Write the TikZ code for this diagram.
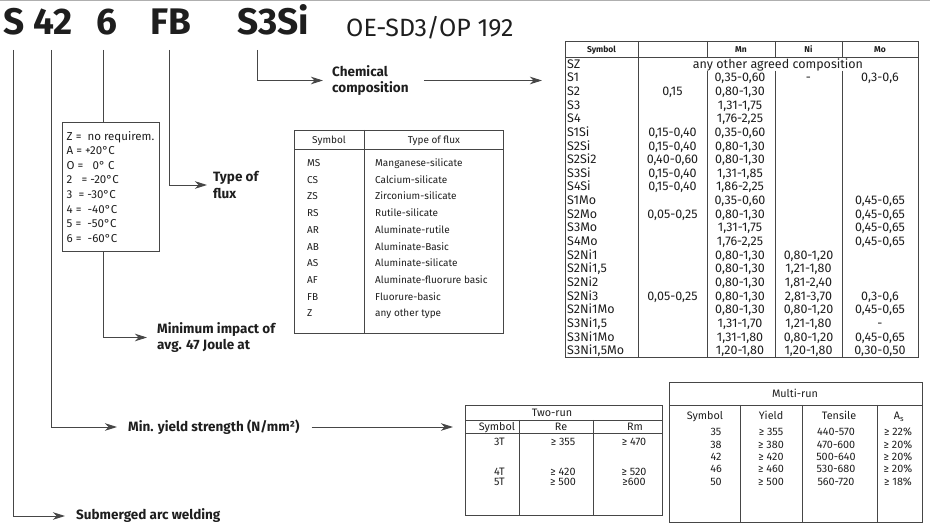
\documentclass[tikz,border=0pt]{standalone}
\usepackage{fontspec}
\setmainfont{Fira Sans}
\usetikzlibrary{arrows.meta, calc, positioning}

\definecolor{ink}{RGB}{30,30,30}
\definecolor{rulecol}{RGB}{70,70,70}
\definecolor{topline}{RGB}{175,175,175}

\newcommand\bigfnt{\fontsize{37}{40}\selectfont}
\newcommand\reffnt{\fontsize{25}{28}\selectfont}
\newcommand\lblfnt{\fontsize{13.5}{16.5}\selectfont\bfseries}
\newcommand\cellfnt{\fontsize{10}{12}\selectfont}
\newcommand\chemfnt{\fontsize{12.5}{13}\selectfont}
\newcommand\runfnt{\fontsize{10.8}{13}\selectfont}
\newcommand\headfnt{\fontsize{8.5}{10}\selectfont\bfseries}

\begin{document}
\begin{tikzpicture}[x=1pt, y=-1pt,
    conn/.style={draw=rulecol, line width=0.9pt, -{Stealth[length=12pt, width=7.5pt, inset=3.5pt]}},
    lead/.style={draw=rulecol, line width=0.9pt},
    grid/.style={draw=rulecol, line width=0.8pt},
    lbl/.style={font=\lblfnt, text=ink, anchor=west, align=left, inner sep=0pt},
    code/.style={font=\bigfnt\bfseries, text=ink, anchor=base west, inner sep=0pt},
    cell/.style={font=\cellfnt, text=ink, inner sep=0pt, text height=7.1pt, text depth=0pt},
    chem/.style={cell, font=\chemfnt, text height=8.8pt},
    run/.style={cell, font=\runfnt, text height=7.7pt},
    hcell/.style={font=\headfnt, text=ink, inner sep=0pt, text height=6.1pt, text depth=0pt}]
\useasboundingbox (0,0) rectangle (930,526);
\draw[topline, line width=1.5pt] (0,0.75) -- (930,0.75);

% designation
\node[code] (hS)   at (3,35)   {S};
\node[code] (h42)  at (33,35)  {42};
\node[code] (h6)   at (96,35)  {6};
\node[code] (hFB)  at (150,35) {FB};
\node[code] (hSi)  at (237,35) {S3Si};
\node[font=\reffnt, text=ink, anchor=base west, inner sep=0pt] (hRef) at (346,37) {OE-SD3/OP 192};

\coordinate (tS)  at (13,50);
\coordinate (t42) at (51,50);
\coordinate (t6)  at (103.5,50);
\coordinate (tFB) at (169,50);
\coordinate (tSi) at (257.5,50);

% labels
\node[lbl] (lChem)  at (332,80.5)  {Chemical\\composition};
\node[lbl] (lFlux)  at (213,185)   {Type of\\flux};
\node[lbl] (lImp)   at (157,337.5) {Minimum impact of\\avg. 47 Joule at};
\node[lbl] (lYield) at (128,427)   {Min. yield strength (N/mm²)};
\node[lbl] (lSub)   at (76,516)    {Submerged arc welding};

% impact box
\node[draw=rulecol, line width=0.8pt, minimum width=97.5pt, minimum height=129.5pt,
      inner sep=0pt, anchor=north west] (impbox) at (61.7,121.7) {};
\node[font=\fontsize{11.5}{14.6}\selectfont, text=ink, anchor=north west, align=left,
      inner sep=0pt] (imptxt) at (66.5,131)
  {Z =\ \ no requirem.\\A = +20°C\\O =\ \ \ 0° C\\2\ \ \ = -20°C\\3\ \ = -30°C\\4 =\ \ -40°C\\5 =\ \ -50°C\\6 =\ \ -60°C};

% connectors
\draw[conn] (tS) |- ([xshift=-11pt]lSub.west);
\draw[conn] (t42) |- ([xshift=-11pt]lYield.west);
\draw[lead] (t6) -- (t6 |- impbox.north);
\draw[conn] (t6 |- impbox.south) |- ([xshift=-10pt]lImp.west);
\draw[conn] (tFB) |- ([xshift=-6pt]lFlux.west);
\draw[conn] (tSi) |- ([xshift=-9pt]lChem.west);
\coordinate (chemIn) at (542,80.5);
\draw[conn] ([xshift=15pt]lChem.east) -- (chemIn);
\coordinate (yieldIn) at (453,427);
\draw[conn] ([xshift=12pt]lYield.east) -- (yieldIn);

% type of flux table
\draw[grid] (294,130) rectangle (503,333);
\draw[grid] (294,149) -- (503,149);
\draw[grid] (364,130) -- (364,333);
\node[cell] (fxh1) at (329,139.5) {Symbol};
\node[cell] (fxh2) at (434,139.5) {Type of flux};
\foreach \s/\t [count=\i] in {MS/Manganese-silicate, CS/Calcium-silicate, ZS/Zirconium-silicate,
    RS/Rutile-silicate, AR/Aluminate-rutile, AB/Aluminate-Basic, AS/Aluminate-silicate,
    AF/Aluminate-fluorure basic, FB/Fluorure-basic, Z/any other type}{
  \node[cell, anchor=west] (fs\i) at (307,{163+(\i-1)*16.7}) {\s};
  \node[cell, anchor=west] (ft\i) at (375,{163+(\i-1)*16.7}) {\t};
}

% chemical composition table
\def\rh{13.64}
\draw[grid] (565,41) rectangle (918,357);
\draw[grid] (565,57) -- (918,57);
\draw[grid] (638,41) -- (638,357);
\foreach \xx in {707,775,842}{
  \draw[grid] (\xx,41) -- (\xx,57);
  \draw[grid] (\xx,70.6) -- (\xx,357);
}
\node[hcell] (chh1) at (601.5,49) {Symbol};
\node[hcell] (chh3) at (741,49) {Mn};
\node[hcell] (chh4) at (808.5,49) {Ni};
\node[hcell] (chh5) at (880,49) {Mo};
\node[chem] (cspan) at (778,{57+0.5*\rh}) {any other agreed composition};
\foreach \r/\s in {1/SZ,2/S1,3/S2,4/S3,5/S4,6/S1Si,7/S2Si,8/S2Si2,9/S3Si,10/S4Si,11/S1Mo,
    12/S2Mo,13/S3Mo,14/S4Mo,15/S2Ni1,16/{S2Ni1,5},17/S2Ni2,18/S2Ni3,19/S2Ni1Mo,
    20/{S3Ni1,5},21/S3Ni1Mo,22/{S3Ni1,5Mo}}
  \node[chem, anchor=west] (cs\r) at (567,{57+(\r-0.5)*\rh}) {\s};
\foreach \r/\v in {3/{0,15},6/{0,15-0,40},7/{0,15-0,40},8/{0,40-0,60},9/{0,15-0,40},
    10/{0,15-0,40},12/{0,05-0,25},18/{0,05-0,25}}
  \node[chem] (cc\r) at (672.5,{57+(\r-0.5)*\rh}) {\v};
\foreach \r/\v in {2/{0,35-0,60},3/{0,80-1,30},4/{1,31-1,75},5/{1,76-2,25},6/{0,35-0,60},
    7/{0,80-1,30},8/{0,80-1,30},9/{1,31-1,85},10/{1,86-2,25},11/{0,35-0,60},12/{0,80-1,30},
    13/{1,31-1,75},14/{1,76-2,25},15/{0,80-1,30},16/{0,80-1,30},17/{0,80-1,30},
    18/{0,80-1,30},19/{0,80-1,30},20/{1,31-1,70},21/{1,31-1,80},22/{1,20-1,80}}
  \node[chem] (cm\r) at (740,{57+(\r-0.5)*\rh}) {\v};
\foreach \r/\v in {2/-,15/{0,80-1,20},16/{1,21-1,80},17/{1,81-2,40},18/{2,81-3,70},
    19/{0,80-1,20},20/{1,21-1,80},21/{0,80-1,20},22/{1,20-1,80}}
  \node[chem] (cn\r) at (808.5,{57+(\r-0.5)*\rh}) {\v};
\foreach \r/\v in {2/{0,3-0,6},11/{0,45-0,65},12/{0,45-0,65},13/{0,45-0,65},14/{0,45-0,65},
    18/{0,3-0,6},19/{0,45-0,65},20/-,21/{0,45-0,65},22/{0,30-0,50}}
  \node[chem] (co\r) at (880,{57+(\r-0.5)*\rh}) {\v};

% two-run table
\draw[grid] (465,405) rectangle (662,515);
\draw[grid] (465,420) -- (662,420);
\draw[grid] (465,433) -- (662,433);
\draw[grid] (519,420) -- (519,515);
\draw[grid] (593,420) -- (593,515);
\node[run] (trh) at (552,412.5) {Two-run};
\node[run] (trh1) at (497,426.5) {Symbol};
\node[run] (trh2) at (561,426.5) {Re};
\node[run] (trh3) at (635,426.5) {Rm};
\foreach \s/\re/\rm/\yy in {3T/≥\ 355/≥\ 470/442, 4T/≥\ 420/≥\ 520/472, 5T/≥\ 500/≥600/482}{
  \node[run, anchor=east] (tr\s) at (505,\yy) {\s};
  \node[run] (tre\s) at (563,\yy) {\re};
  \node[run] (trm\s) at (634,\yy) {\rm};
}

% multi-run table
\draw[grid] (669,382) rectangle (922,522);
\draw[grid] (669,405) -- (922,405);
\foreach \xx in {740,802,877}
  \draw[grid] (\xx,405) -- (\xx,522);
\node[run] (mrh) at (795,393.5) {Multi-run};
\node[run] (mrh1) at (705,416) {Symbol};
\node[run] (mrh2) at (771,416) {Yield};
\node[run] (mrh3) at (839,416) {Tensile};
\node[run] (mrh4) at (899,416) {A\textsubscript{s}};
\foreach \s/\yl/\ts/\el [count=\i] in {35/≥\ 355/440-570/≥\ 22\%, 38/≥\ 380/470-600/≥\ 20\%,
    42/≥\ 420/500-640/≥\ 20\%, 46/≥\ 460/530-680/≥\ 20\%, 50/≥\ 500/560-720/≥\ 18\%}{
  \node[run] (mr\i) at (716,{432+(\i-1)*12.3}) {\s};
  \node[run] (my\i) at (771,{432+(\i-1)*12.3}) {\yl};
  \node[run] (mt\i) at (836,{432+(\i-1)*12.3}) {\ts};
  \node[run] (me\i) at (898,{432+(\i-1)*12.3}) {\el};
}
\end{tikzpicture}
\end{document}
